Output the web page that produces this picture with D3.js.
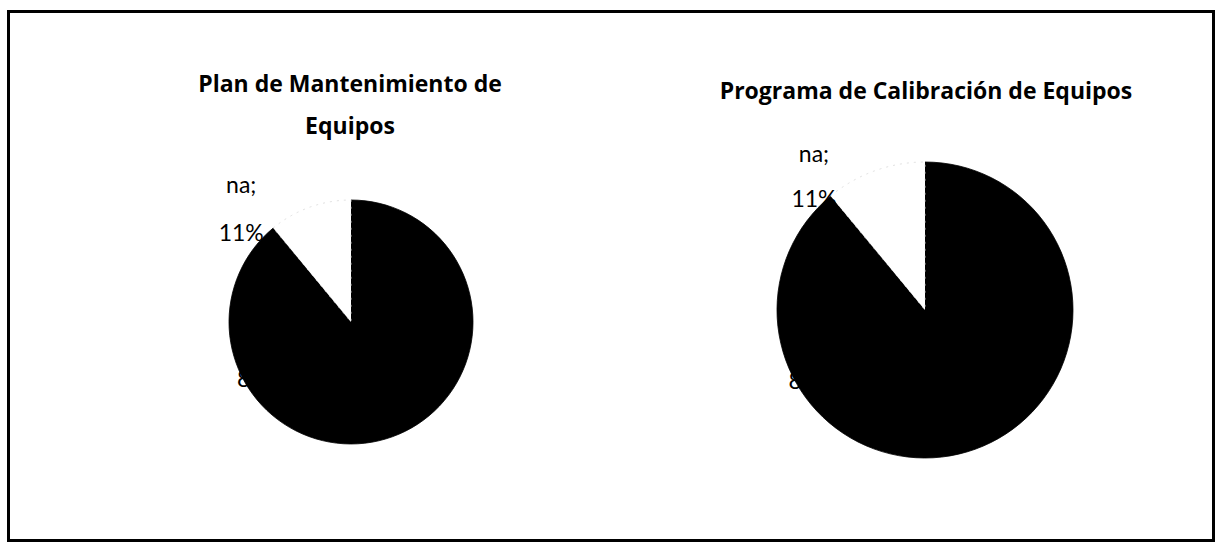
<!DOCTYPE html>
<html>
<head>
<meta charset="utf-8">
<script src="https://cdn.jsdelivr.net/npm/d3@7"></script>
<style>
  html, body { margin: 0; padding: 0; background: #fff; }
  svg { display: block; }
</style>
</head>
<body>
<svg id="chart" width="1217" height="544"></svg>
<script>
// Answer categories shared by both pies
const categories = ["si", "na"];
// Percentages per chart
const mantenimientoValues = [89, 11];
const calibracionValues = [89, 11];
// Chart titles (one entry per line)
const mantenimientoTitle = ["Plan de Mantenimiento de", "Equipos"];
const calibracionTitle = ["Programa de Calibración de Equipos"];

const sliceColor = d3.scaleOrdinal().domain(categories).range(["#000000", "#ffffff"]);
const labelColor = d3.scaleOrdinal().domain(categories).range(["#000000", "#000000"]);

const svg = d3.select("#chart");

// outer frame
svg.append("rect")
  .attr("x", 8.5).attr("y", 11.5)
  .attr("width", 1205).attr("height", 529)
  .attr("fill", "none").attr("stroke", "#000").attr("stroke-width", 3);

const charts = [
  {
    title: mantenimientoTitle, values: mantenimientoValues,
    cx: 351, cy: 322, r: 122,
    titleX: 350, titleY: 92, titleLead: 42,
    // label anchors as fractions of the radius: [dx, dy of first line]
    label: { na: [-0.9, -1.06], si: [-0.75, 0.14] }, lead: 48
  },
  {
    title: calibracionTitle, values: calibracionValues,
    cx: 925, cy: 310, r: 148,
    titleX: 926, titleY: 99, titleLead: 42,
    label: { na: [-0.75, -1.0], si: [-0.77, 0.23] }, lead: 45
  }
];

const pie = d3.pie().sort(null).value(d => d.value);

charts.forEach(c => {
  const g = svg.append("g");

  g.selectAll("text.title")
    .data(c.title)
    .join("text")
    .attr("class", "title")
    .attr("x", c.titleX)
    .attr("y", (d, i) => c.titleY + i * c.titleLead)
    .attr("text-anchor", "middle")
    .attr("font-family", "'Open Sans', sans-serif")
    .attr("font-weight", "bold")
    .attr("font-size", 23)
    .attr("fill", "#000")
    .text(d => d);

  const data = categories.map((k, i) => ({ key: k, value: c.values[i] }));
  const arcs = pie(data);
  const arc = d3.arc().innerRadius(0).outerRadius(c.r);

  const pg = g.append("g").attr("transform", `translate(${c.cx},${c.cy})`);
  pg.selectAll("path")
    .data(arcs)
    .join("path")
    .attr("d", arc)
    .attr("fill", d => sliceColor(d.data.key))
    .attr("stroke", d => d.data.key === "na" ? "#d8d8d8" : "#000")
    .attr("stroke-width", 0.8)
    .attr("stroke-dasharray", d => d.data.key === "na" ? "2,5" : null);

  // data labels: "category;" on one line, "value%" below
  arcs.forEach(a => {
    const pos = c.label[a.data.key];
    const lx = pos[0] * c.r, ly = pos[1] * c.r;
    const t = pg.append("text")
      .attr("text-anchor", "middle")
      .attr("font-family", "Lato, sans-serif")
      .attr("font-size", 23)
      .attr("fill", labelColor(a.data.key));
    t.append("tspan").attr("x", lx).attr("y", ly).text(a.data.key + ";");
    t.append("tspan").attr("x", lx).attr("y", ly + c.lead).text(a.data.value + "%");
  });
});
</script>
</body>
</html>
